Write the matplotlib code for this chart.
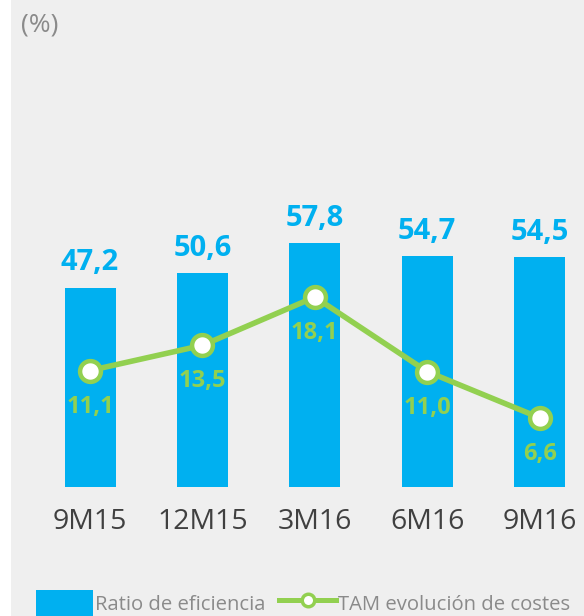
import matplotlib
matplotlib.use("Agg")
import matplotlib.pyplot as plt
from matplotlib.patches import Rectangle, Patch
from matplotlib.lines import Line2D

periods = ["9M15", "12M15", "3M16", "6M16", "9M16"]
ratio_eficiencia = [47.2, 50.6, 57.8, 54.7, 54.5]
tam_costes = [11.1, 13.5, 18.1, 11.0, 6.6]

BLUE = "#00b0f0"
GREEN = "#92d050"
BG = "#efefef"

plt.rcParams["font.family"] = ["Open Sans", "DejaVu Sans"]

W, H = 584, 616
fig = plt.figure(figsize=(W / 100, H / 100), dpi=100)
fig.patches.append(Rectangle((11 / W, 0), 1 - 11 / W, 1, transform=fig.transFigure,
                             facecolor=BG, edgecolor="none", zorder=-10))

ax = fig.add_axes([11 / W, (H - 487) / H, (W - 11) / W, (487 - 40) / H])
ax.set_facecolor("none")
x = list(range(len(periods)))
ax.bar(x, ratio_eficiencia, width=0.454, color=BLUE, zorder=2)
ax.set_xlim(-0.703, 4.395)
ax.set_ylim(0, 105.9)
ax.set_xticks(x)
ax.set_xticklabels(periods, fontsize=20.5, color="#404040")
ax.tick_params(axis="x", length=0, pad=15)
ax.set_yticks([])
for s in ax.spines.values():
    s.set_visible(False)
for xi, v in zip(x, ratio_eficiencia):
    ax.annotate(f"{v:.1f}".replace(".", ","), (xi, v), xytext=(0, 7.5), textcoords="offset points",
                ha="center", va="bottom", fontsize=21, fontweight="bold", color=BLUE)

ax2 = ax.twinx()
ax2.set_ylim(0, 42.6)
ax2.set_yticks([])
for s in ax2.spines.values():
    s.set_visible(False)
ax2.plot(x, tam_costes, color=GREEN, lw=4, marker="o", ms=15, mfc="white",
         mec=GREEN, mew=3.2, zorder=3)
for xi, v in zip(x, tam_costes):
    ax2.annotate(f"{v:.1f}".replace(".", ","), (xi, v), xytext=(0, -26), textcoords="offset points",
                 ha="center", va="center", fontsize=17, fontweight="bold", color=GREEN)

fig.text(21 / W, 1 - 25 / H, "(%)", va="center", ha="left", fontsize=19, color="#8a8a8a")

handles = [Patch(facecolor=BLUE, edgecolor="none"),
           Line2D([], [], color=GREEN, lw=3.6, marker="o", ms=9, mfc="white", mec=GREEN, mew=2.5)]
fig.legend(handles, ["Ratio de eficiencia", "TAM evolución de costes"], ncol=2, frameon=False,
           loc="upper left", bbox_to_anchor=(36 / W, 1 - 590 / H), fontsize=14.6,
           labelcolor="#8a8a8a", handlelength=2.8, handleheight=1.6, handletextpad=0.1,
           columnspacing=0.7, borderaxespad=0, borderpad=0)

fig.savefig("out.png", dpi=100)
